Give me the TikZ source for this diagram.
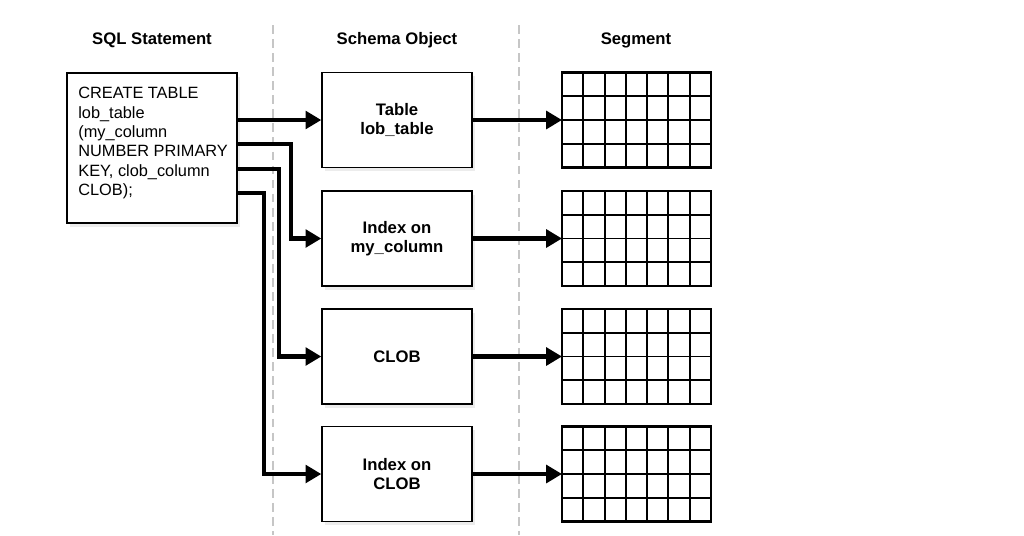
\documentclass[tikz,border=0pt]{standalone}
\usepackage{fontspec}
\setmainfont{Liberation Sans}
\usetikzlibrary{arrows.meta,calc,shadows}

\begin{document}
\begin{tikzpicture}[x=0.02cm,y=-0.02cm,>={Triangle[length=9pt,width=10pt]},line join=miter,
  head/.style={font=\fontsize{9.5}{11}\selectfont\bfseries},
  obj/.style={draw,line width=0.8pt,fill=white,minimum width=3cm,minimum height=1.9cm,align=center,
    font=\fontsize{9.5}{11}\selectfont\bfseries,
    general shadow={fill=gray!15,shadow xshift=1.5pt,shadow yshift=-2pt}},
  seg/.style={draw,line width=1.2pt,minimum width=2.98cm,minimum height=1.9cm,inner sep=0pt,outer sep=0pt},
  cell/.style={line width=1.1pt},
  link/.style={->,line width=2.3pt},
  sep/.style={gray!45,line width=1.2pt,dash pattern=on 5pt off 3pt}]
\useasboundingbox (0,0) rectangle (1024,535);
% column separators
\draw[sep] (273,25) -- (273,535);
\draw[sep] (519,25) -- (519,535);
% headings
\node[head] (hsql) at (152,40) {SQL Statement};
\node[head] (hobj) at (397,40) {Schema Object};
\node[head] (hseg) at (636,40) {Segment};
% statement
\node[obj,minimum width=3.4cm,minimum height=3cm] (sql) at (152,148) {};
\node[anchor=north west,align=left,inner sep=0pt,font=\fontsize{9.3}{11}\selectfont] (code) at (78,87)
  {CREATE TABLE\\lob\_table\\(my\_column\\NUMBER PRIMARY\\KEY, clob\_column\\CLOB);};
% schema objects
\node[obj] (tab) at (397,120) {Table\\lob\_table};
\node[obj] (idx) at (397,238.5) {Index on\\my\_column};
\node[obj] (clob) at (397,356.5) {CLOB};
\node[obj] (lobidx) at (397,474) {Index on\\CLOB};
% segments
\foreach \n/\y in {1/120,2/238.5,3/356.5,4/474}{
  \node[seg] (seg\n) at (636.5,\y) {};
  \foreach \i in {1,...,6}
    \draw[cell] ($(seg\n.north west)!\i/7!(seg\n.north east)$) -- ($(seg\n.south west)!\i/7!(seg\n.south east)$);
  \foreach \j in {1,2,3}
    \draw[cell] ($(seg\n.north west)!\j/4!(seg\n.south west)$) -- ($(seg\n.north east)!\j/4!(seg\n.south east)$);
}
% statement to objects
\draw[link] (sql.east |- tab) -- (tab.west);
\draw[link] (sql.east |- 0,144) -| ($(idx.west)+(-30,0)$) -- (idx.west);
\draw[link] (sql.east |- 0,169) -| ($(clob.west)+(-42,0)$) -- (clob.west);
\draw[link] (sql.east |- 0,193) -| ($(lobidx.west)+(-57,0)$) -- (lobidx.west);
% objects to segments
\foreach \a/\b in {tab/seg1,idx/seg2,clob/seg3,lobidx/seg4}
  \draw[link] (\a) -- (\b);
\end{tikzpicture}
\end{document}
